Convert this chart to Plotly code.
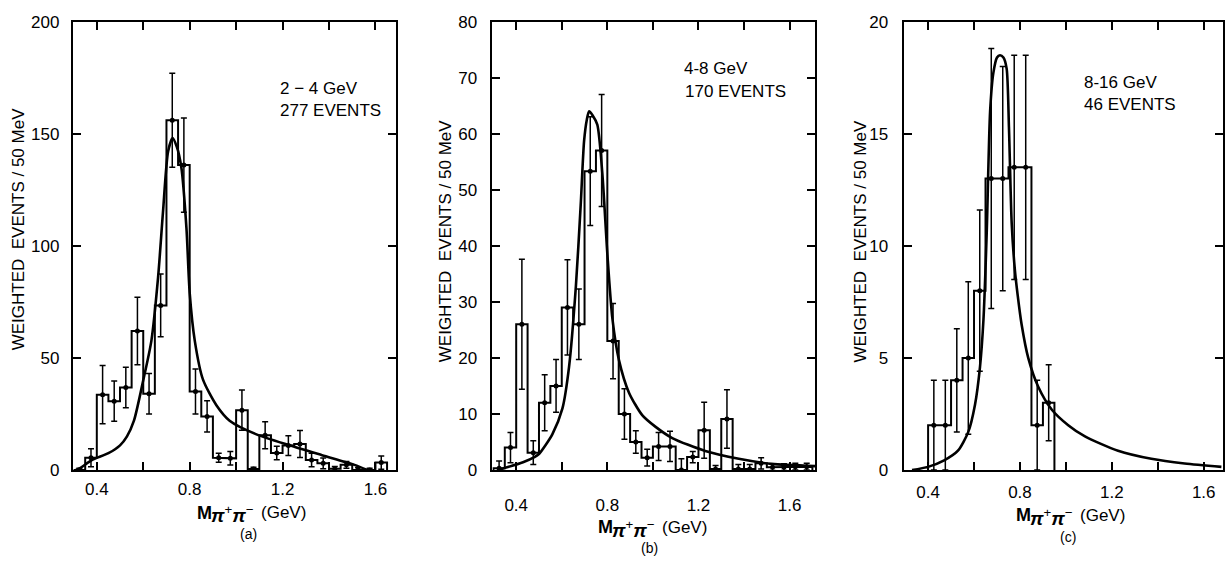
import plotly.graph_objects as go

# ---------------- data ----------------
# panel (a) 2-4 GeV
a_centers = [0.325, 0.375, 0.425, 0.475, 0.525, 0.575, 0.625, 0.675, 0.725, 0.775,
             0.825, 0.875, 0.925, 0.975, 1.025, 1.075, 1.125, 1.175, 1.225, 1.275,
             1.325, 1.375, 1.425, 1.475, 1.525, 1.575, 1.625]
a_vals = [0, 5.5, 33.6, 30.7, 36.8, 62, 34, 73.4, 156, 136,
          35, 23.9, 5.5, 5.2, 26.7, 0.4, 15.5, 7.6, 10.9, 11.6,
          4.5, 3.0, 0.6, 2.3, 0, 0, 3.3]
a_err = [0.8, 4, 13, 9, 9, 15, 9, 14, 21, 21,
         10, 7, 2, 3, 9, 0.8, 6, 3, 4.4, 6,
         3, 2.4, 1, 1.5, 1, 0.8, 3]
a_fit_x = [0.31, 0.33, 0.38, 0.45, 0.50, 0.53, 0.56, 0.60, 0.635, 0.664, 0.685, 0.707,
           0.726, 0.745, 0.764, 0.786, 0.80, 0.822, 0.857, 0.915, 0.972, 1.085, 1.23,
           1.37, 1.51, 1.565]
a_fit_y = [0, 1.0, 4.5, 7.5, 11, 15, 22, 40, 57.6, 86, 115, 142,
           148, 144, 135, 108, 79, 57.6, 40.4, 28.9, 22, 16, 11,
           6.6, 2.3, 0]

# panel (b) 4-8 GeV
b_centers = [0.325, 0.375, 0.425, 0.475, 0.525, 0.575, 0.625, 0.675, 0.725, 0.775,
             0.825, 0.875, 0.925, 0.975, 1.025, 1.075, 1.125, 1.175, 1.225, 1.275,
             1.325, 1.375, 1.425, 1.475, 1.525, 1.575, 1.625, 1.675]
b_vals = [0.3, 4, 26, 3.1, 12, 15, 29, 26, 53.3, 57,
          23, 10, 5, 2.2, 4.2, 4.2, 0, 2.3, 7.1, 0.2,
          9.1, 0.2, 0.2, 1.2, 0.5, 0.5, 0.6, 0.6]
b_err = [1.3, 2.7, 11.6, 2.1, 5, 4.7, 8.5, 6.3, 9.7, 10,
         6.7, 4.5, 2, 1.5, 2.5, 2.7, 2, 1, 5, 0.6,
         5.2, 0.8, 0.8, 1, 0.6, 0.6, 0.6, 0.6]
b_fit_x = [0.32, 0.43, 0.48, 0.501, 0.53, 0.559, 0.603, 0.632, 0.662, 0.683, 0.698,
           0.71, 0.72, 0.735, 0.756, 0.778, 0.80, 0.822, 0.851, 0.895, 0.953, 1.012,
           1.085, 1.23, 1.377, 1.52, 1.712]
b_fit_y = [0, 1.4, 2.3, 2.9, 4.5, 6.4, 11, 18.4, 32.8, 47.2, 58.7,
           62.5, 64, 63.3, 61.6, 52.9, 38.6, 27.1, 19.6, 13.8, 9.8, 7.7,
           5.7, 3.4, 2.0, 1.1, 0.7]

# panel (c) 8-16 GeV
c_centers = [0.425, 0.475, 0.525, 0.575, 0.625, 0.675, 0.725, 0.775, 0.825, 0.875, 0.925]
c_vals = [2, 2, 4, 5, 8, 13, 13, 13.5, 13.5, 2, 3]
c_err = [2, 2, 2.3, 3.4, 3.6, 5.8, 5, 5, 5, 2, 1.7]
c_fit_x = [0.33, 0.40, 0.47, 0.53, 0.575, 0.604, 0.626, 0.641, 0.655, 0.67, 0.684,
           0.70, 0.713, 0.728, 0.742, 0.752, 0.764, 0.778, 0.79, 0.807, 0.836, 0.88,
           0.938, 1.01, 1.083, 1.227, 1.372, 1.517, 1.677]
c_fit_y = [0, 0.14, 0.43, 0.86, 1.7, 2.9, 4.6, 6.7, 10.5, 16, 17.7,
           18.4, 18.5, 18.4, 17.9, 15.3, 11, 8.9, 7.8, 6.5, 5.0, 3.7,
           2.7, 2.0, 1.5, 0.86, 0.5, 0.29, 0.14]

bin_width = 0.05
x_labelvals = [0.4, 0.8, 1.2, 1.6]
x_labeltext = ["0.4", "0.8", "1.2", "1.6"]
x_minorvals = [0.6, 1.0, 1.4]

panels = [
    dict(c=a_centers, v=a_vals, e=a_err, fx=a_fit_x, fy=a_fit_y,
         yticks=[0, 50, 100, 150, 200], yrange=[0, 200]),
    dict(c=b_centers, v=b_vals, e=b_err, fx=b_fit_x, fy=b_fit_y,
         yticks=[0, 10, 20, 30, 40, 50, 60, 70, 80], yrange=[0, 80]),
    dict(c=c_centers, v=c_vals, e=c_err, fx=c_fit_x, fy=c_fit_y,
         yticks=[0, 5, 10, 15, 20], yrange=[0, 20]),
]

W, H = 1225, 567
def px(x):
    return x / W
def py(y):
    return 1 - y / H

# plot frames in pixels (left, right) and x ranges
frames = [(73, 397, [0.297, 1.69]), (493.3, 816.7, [0.296, 1.713]), (905, 1225, [0.293, 1.684])]
top_px, bot_px = 13, 477
y_standoffs = [8, 10, 10]
x_standoffs = [3, 19, 6]

FONT = "Liberation Sans, Arial, sans-serif"
fig = go.Figure()

for i, p in enumerate(panels):
    xa = "x" if i == 0 else f"x{i+1}"
    ya = "y" if i == 0 else f"y{i+1}"
    # step outline
    sx, sy = [], []
    sx.append(p["c"][0] - bin_width / 2); sy.append(0)
    for c, v in zip(p["c"], p["v"]):
        sx += [c - bin_width / 2, c + bin_width / 2]
        sy += [v, v]
    sx.append(p["c"][-1] + bin_width / 2); sy.append(0)
    fig.add_trace(go.Scatter(x=sx, y=sy, mode="lines", xaxis=xa, yaxis=ya,
                             line=dict(color="black", width=2), showlegend=False,
                             hoverinfo="skip"))
    # points with errors
    fig.add_trace(go.Scatter(x=p["c"], y=p["v"], mode="markers", xaxis=xa, yaxis=ya,
                             marker=dict(color="black", size=5),
                             error_y=dict(type="data", array=p["e"], visible=True,
                                          color="black", thickness=1.5, width=3),
                             showlegend=False))
    # fit curve
    fig.add_trace(go.Scatter(x=p["fx"], y=p["fy"], mode="lines", xaxis=xa, yaxis=ya,
                             line=dict(color="black", width=2.6, shape="spline", smoothing=0.7),
                             showlegend=False, hoverinfo="skip"))

axis_common = dict(showline=True, linewidth=2, linecolor="black", mirror="ticks",
                   ticks="inside", ticklen=8, tickwidth=1.5, tickcolor="black",
                   showgrid=False, zeroline=False, ticklabeloverflow="allow",
                   tickfont=dict(family=FONT, size=17, color="black"))

layout = dict(width=W, height=H, margin=dict(l=0, r=0, t=0, b=0),
              paper_bgcolor="white", plot_bgcolor="white", showlegend=False)

for i, p in enumerate(panels):
    l, r, xr = frames[i]
    xk = "xaxis" if i == 0 else f"xaxis{i+1}"
    yk = "yaxis" if i == 0 else f"yaxis{i+1}"
    xname = "x" if i == 0 else f"x{i+1}"
    yname = "y" if i == 0 else f"y{i+1}"
    layout[xk] = dict(axis_common, domain=[px(l), min(px(r), 1.0)], range=xr,
                      tickvals=x_labelvals, ticktext=x_labeltext, anchor=yname,
                      ticklabelstandoff=x_standoffs[i],
                      minor=dict(tickvals=x_minorvals, ticks="inside", ticklen=8,
                                 tickwidth=1.5, tickcolor="black", showgrid=False))
    layout[yk] = dict(axis_common, domain=[py(bot_px), py(top_px)], range=p["yrange"],
                      tickvals=p["yticks"], anchor=xname,
                      ticklabelstandoff=y_standoffs[i])

fig.update_layout(**layout)

def ann(text, x, y, size=17, xanchor="left", angle=0):
    fig.add_annotation(text=text, x=px(x), y=py(y), xref="paper", yref="paper",
                       showarrow=False, xanchor=xanchor, yanchor="middle",
                       textangle=angle, font=dict(family=FONT, size=size, color="black"))

# labels inside panels
ann("2 − 4 GeV", 278, 82)
ann("277 EVENTS", 278, 105)
ann("4-8 GeV", 683, 62)
ann("170 EVENTS", 684, 85)
ann("8-16 GeV", 1084, 76)
ann("46 EVENTS", 1084, 99)

# y titles
ytitle = "WEIGHTED  EVENTS / 50 MeV"
ann(ytitle, 18, 228, size=17, xanchor="center", angle=-90)
ann(ytitle, 447, 240, size=17, xanchor="center", angle=-90)
ann(ytitle, 862, 241, size=17, xanchor="center", angle=-90)

# x titles: M, subscript pions, (GeV), panel letter
pions = "<b><i>π</i></b><sup>+</sup><b><i>π</i></b><sup>−</sup>"
def xtitle(mx, my, letter):
    ann("<b>M</b>", mx, my, size=18)
    ann(pions, mx + 14, my + 2, size=19)
    ann("(GeV)", mx + 64, my, size=17)
    ann(letter, mx + 54, my + 22, size=14, xanchor="center")

xtitle(195, 521, "(a)")
xtitle(597, 536, "(b)")
xtitle(1016, 524, "(c)")

fig.write_html("out.html", post_script="document.body.style.margin='0';",
               config={"displayModeBar": False})
